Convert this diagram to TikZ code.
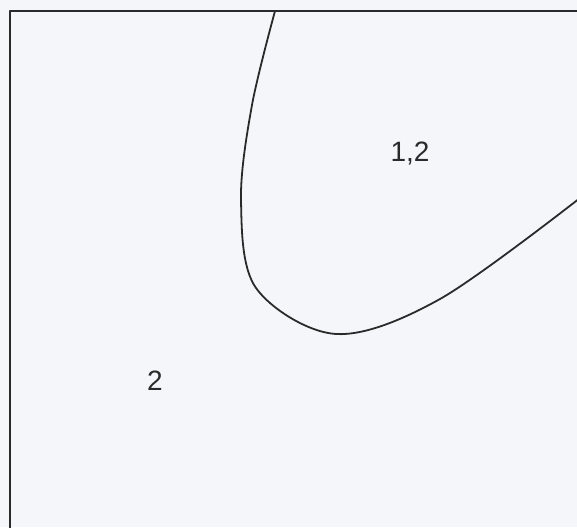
\documentclass[tikz,border=0pt]{standalone}
\usepackage{fontspec}
\setmainfont{Liberation Sans}
\definecolor{paper}{HTML}{F4F6FA}
\definecolor{ink}{HTML}{2A2A2A}
\begin{document}
\begin{tikzpicture}[x=1pt,y=-1pt,
  edge/.style={draw=ink,line width=1.8pt,line cap=round,line join=round},
  lab/.style={font=\fontsize{28}{28}\selectfont,text=ink,inner sep=0pt}]
\fill[paper] (0,0) rectangle (577,527);
\useasboundingbox (0,0) rectangle (577,527);
\draw[edge] (577,11) -- (10,11) -- (10,530);
\draw[edge] plot[smooth,tension=0.55] coordinates {(275,11) (252,105) (241,200) (256,288) (336,334) (440,299) (580,198)};
\node[lab] (a) at (410,154) {1,2};
\node[lab] (b) at (155,381) {2};
\end{tikzpicture}
\end{document}
